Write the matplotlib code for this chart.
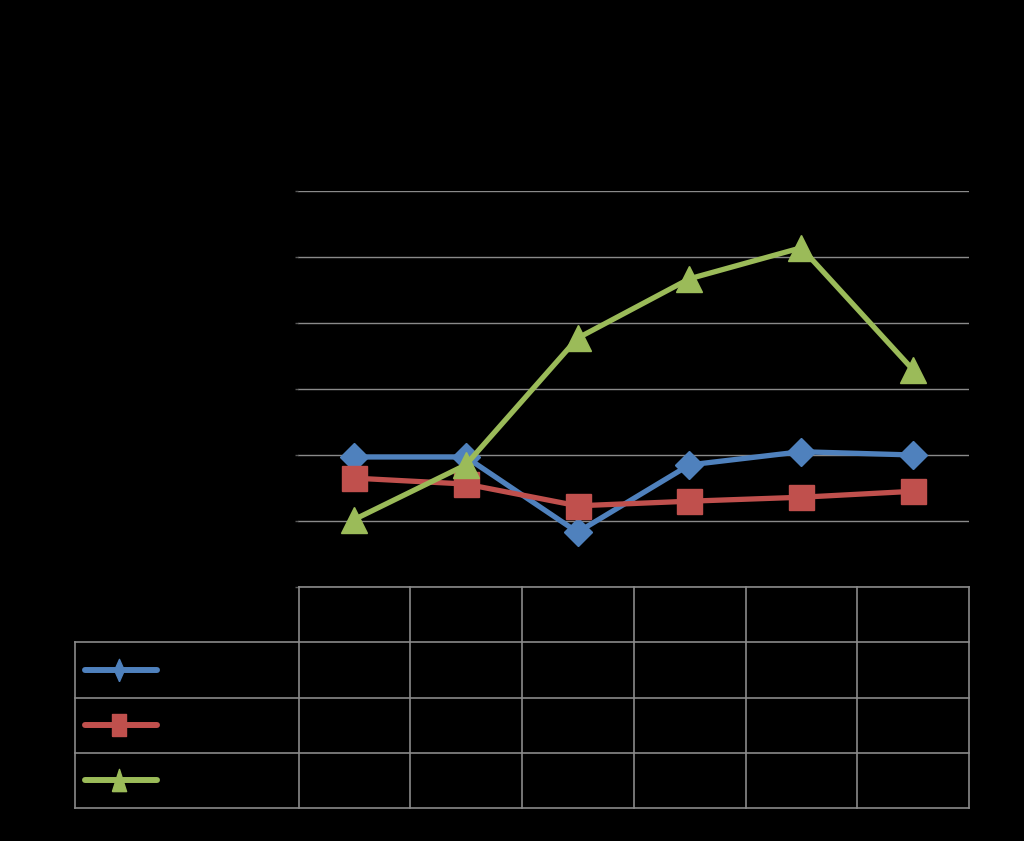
import numpy as np
import matplotlib
matplotlib.use("Agg")
import matplotlib.pyplot as plt

# values (gridline step = 10)
categories = ["1", "2", "3", "4", "5", "6"]
series_names = ["A", "B", "C"]
blue_vals = [19.7, 19.7, 8.3, 18.5, 20.5, 20.0]
red_vals = [16.5, 15.6, 12.3, 13.0, 13.6, 14.5]
green_vals = [10.2, 18.5, 37.7, 46.7, 51.4, 32.9]
y_ticks = [0, 10, 20, 30, 40, 50, 60]

colors = ["#4F81BD", "#C0504D", "#9BBB59"]
markers = ["D", "s", "^"]
msizes = [14.5, 18, 18.5]
grid_col = "#8a8a8a"

# tall, narrow keys like the data table legend
key_markers = [
    [(0, -0.5), (0.22, 0), (0, 0.5), (-0.22, 0), (0, -0.5)],
    [(-0.32, -0.5), (0.32, -0.5), (0.32, 0.5), (-0.32, 0.5), (-0.32, -0.5)],
    [(-0.32, -0.5), (0.32, -0.5), (0, 0.5), (-0.32, -0.5)],
]

fig = plt.figure(figsize=(10.24, 8.41), dpi=100, facecolor="black")
W, H = 1024, 841

# main plot area
ax = fig.add_axes([298 / W, 1 - 587 / H, (969 - 298) / W, (587 - 191) / H])
ax.set_facecolor("black")
x = np.arange(len(categories))
for vals, c, m, ms in zip([blue_vals, red_vals, green_vals], colors, markers, msizes):
    ax.plot(x, vals, color=c, lw=3.8, marker=m, ms=ms, mec=c, mfc=c, solid_capstyle="round")

ax.set_xlim(-0.5, len(categories) - 0.5)
ax.set_ylim(y_ticks[0], y_ticks[-1])
ax.set_yticks(y_ticks)
ax.set_yticklabels([])
ax.set_xticks([])
ax.yaxis.grid(True, color=grid_col, lw=1)
ax.set_axisbelow(True)
for s in ax.spines.values():
    s.set_visible(False)
ax.tick_params(axis="y", colors="#555555", length=2, width=1, direction="out")

# data table grid below the plot
tax = fig.add_axes([75 / W, 1 - 808 / H, (969 - 75) / W, (808 - 587) / H])
tax.set_facecolor("black")
ncat = len(categories)
nrow = len(series_names)
tax.set_xlim(-2, ncat)
tax.set_ylim(0, nrow + 1)
tax.axis("off")
for i in range(ncat + 1):
    tax.plot([i, i], [0, nrow + 1], color=grid_col, lw=1.2, clip_on=False)
tax.plot([-2, -2], [0, nrow], color=grid_col, lw=1.2, clip_on=False)
for j in range(nrow + 1):
    tax.plot([-2, ncat], [j, j], color=grid_col, lw=1.2, clip_on=False)
tax.plot([0, ncat], [nrow + 1, nrow + 1], color=grid_col, lw=1.2, clip_on=False)

# legend keys in the row-label column
for k, (c, km) in enumerate(zip(colors, key_markers)):
    yc = nrow - k - 0.5
    tax.plot([-1.91, -1.27], [yc, yc], color=c, lw=4.3, solid_capstyle="round")
    tax.plot([-1.61], [yc], marker=km, ms=16, color=c, mec=c)

fig.savefig("out.png", dpi=100, facecolor="black")
